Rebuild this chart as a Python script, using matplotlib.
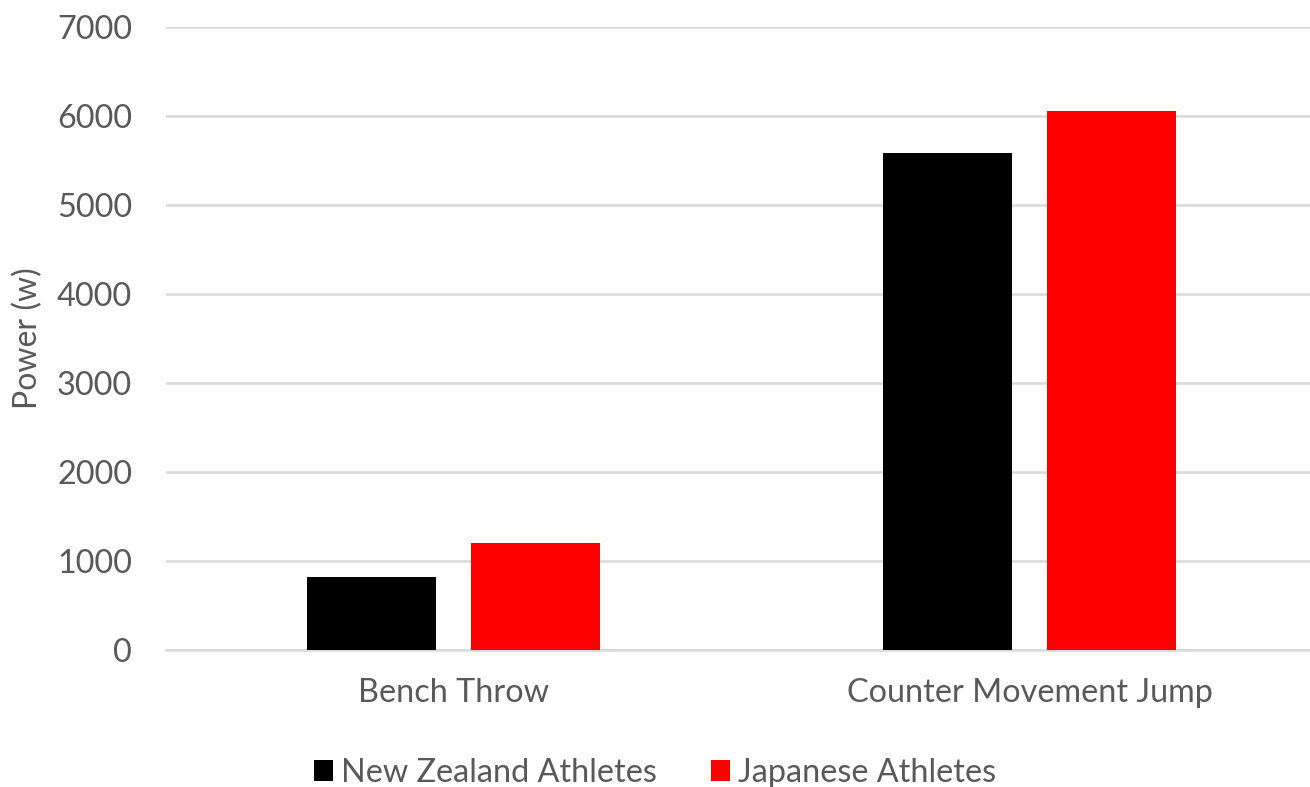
import numpy as np
import matplotlib.pyplot as plt

plt.rcParams['font.family'] = ['Lato', 'DejaVu Sans']

categories = ['Bench Throw', 'Counter Movement Jump']
nz_power = [815, 5580]
jp_power = [1205, 6055]
series_names = ['New Zealand Athletes', 'Japanese Athletes']
yticks = [0, 1000, 2000, 3000, 4000, 5000, 6000, 7000]

text_color = '#595959'
grid_color = '#d9d9d9'

W, H = 1310, 787
fig = plt.figure(figsize=(W / 100, H / 100), dpi=100)
# axes runs past the right edge of the canvas, like the source layout
ax = fig.add_axes([165.5 / W, 1 - 650 / H, 1152 / W, 623 / H])

x = np.arange(len(categories))
bw = 0.224
off = 0.1424
ax.bar(x - off, nz_power, width=bw, color='black', label=series_names[0], zorder=3)
ax.bar(x + off, jp_power, width=bw, color='red', label=series_names[1], zorder=3)

ax.set_xlim(-0.5, len(categories) - 0.5)
ax.set_ylim(0, 7000)
ax.set_yticks(yticks)
ax.set_yticklabels([str(v) for v in yticks])
ax.set_xticks(x)
ax.set_xticklabels(categories)
ax.yaxis.grid(True, color=grid_color, linewidth=1.8, zorder=0)
ax.set_axisbelow(True)
for s in ['top', 'right', 'left']:
    ax.spines[s].set_visible(False)
ax.spines['bottom'].set_color(grid_color)
ax.spines['bottom'].set_linewidth(1.8)
ax.tick_params(axis='both', length=0, labelsize=23.3, colors=text_color)
ax.tick_params(axis='y', pad=24)
ax.tick_params(axis='x', pad=20)
ax.set_ylabel('Power (w)', fontsize=23, color=text_color, labelpad=10)

fig.legend(loc='center', bbox_to_anchor=(0.5, 1 - 773 / H), ncol=2, frameon=False,
           fontsize=23.3, labelcolor=text_color, handlelength=0.6, handleheight=0.6,
           handletextpad=0.25, columnspacing=1.65)

fig.savefig('out.png', dpi=100)
